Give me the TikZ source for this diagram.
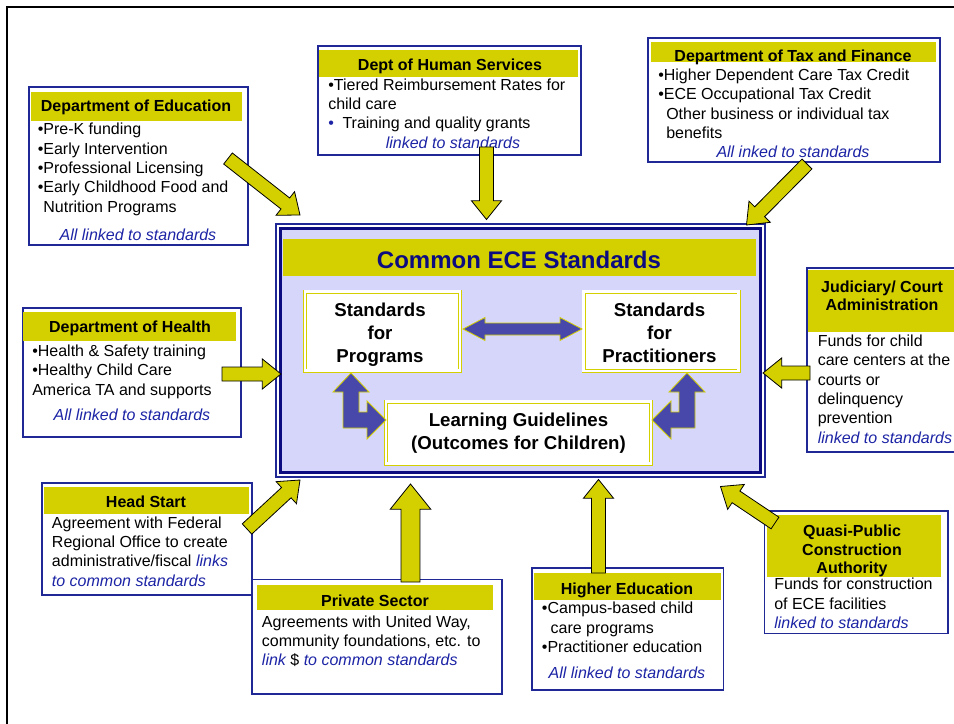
\documentclass[tikz,border=0pt]{standalone}
\usepackage{fontspec}
\setmainfont{Liberation Sans}
\usetikzlibrary{%
  calc,% for the block arrows
  fit,%
  positioning%
}

\definecolor{barcolor}{RGB}{212,208,0}
\definecolor{boxblue}{RGB}{32,40,150}
\definecolor{linkblue}{RGB}{28,36,165}
\definecolor{navy}{RGB}{12,12,128}
\definecolor{lavender}{RGB}{214,214,250}
\definecolor{arrowblue}{RGB}{72,72,170}

\tikzset{
  agency/.style={draw=boxblue, line width=1pt, fill=white, inner sep=0},
  headbar/.style={fill=barcolor, inner sep=0},
  headtext/.style={align=center, anchor=base, inner sep=0, font=\fontsize{12}{14}\selectfont\bfseries},
  bodytext/.style={align=left, anchor=base west, inner sep=0},
  linktext/.style={anchor=base, inner sep=0, text=linkblue, font=\fontsize{12}{14.5}\selectfont\itshape},
  stdbox/.style={draw=barcolor, double=white, double distance=1.6pt, line width=0.7pt, fill=white, inner sep=0},
  stdtext/.style={align=center, anchor=base, inner sep=0, font=\fontsize{14}{17.25}\selectfont\bfseries},
  feed/.style={fill=barcolor, draw=black, line width=0.6pt, line join=miter},
  crosslink/.style={fill=arrowblue, draw=barcolor, line width=0.6pt, line join=miter},
  bendlink/.pic={
    \path[crosslink] (351,373) -- (369,392) -- (359,392) -- (359,412) -- (367,412) -- (367,401)
      -- (386,420) -- (367,439) -- (367,428) -- (343,428) -- (343,392) -- (333,392) -- cycle;
  }
}

\newcommand{\lnk}[1]{{\color{linkblue}\itshape #1}}

% yellow block arrow from #2 (tail) to #3 (tip), #1 = size factor
\newcommand{\feedarrow}[3][1]{%
  \pgfmathsetmacro\sh{#1*5.25}%
  \pgfmathsetmacro\hh{#1*11.25}%
  \pgfmathsetmacro\hl{#1*14}%
  \coordinate (hb) at ($(#3)!\hl pt!(#2)$);
  \path[feed] ($(#2)!\sh pt!-90:(#3)$) -- ($(hb)!\sh pt!-90:(#3)$) -- ($(hb)!\hh pt!-90:(#3)$)
    -- (#3) -- ($(hb)!\hh pt!90:(#3)$) -- ($(hb)!\sh pt!90:(#3)$) -- ($(#2)!\sh pt!90:(#3)$) -- cycle;
}

% blue arrow with a head at both ends
\newcommand{\twowayarrow}[2]{%
  \coordinate (hb1) at ($(#1)!16.5pt!(#2)$);
  \coordinate (hb2) at ($(#2)!16.5pt!(#1)$);
  \path[crosslink] (#1) -- ($(hb1)!8.6pt!90:(#2)$) -- ($(hb1)!4.5pt!90:(#2)$) -- ($(hb2)!4.5pt!-90:(#1)$)
    -- ($(hb2)!8.6pt!-90:(#1)$) -- (#2) -- ($(hb2)!8.6pt!90:(#1)$) -- ($(hb2)!4.5pt!90:(#1)$)
    -- ($(hb1)!4.5pt!-90:(#2)$) -- ($(hb1)!8.6pt!-90:(#2)$) -- cycle;
}

\begin{document}
\begin{tikzpicture}[x=0.75pt, y=-0.75pt, font=\fontsize{12}{14.5}\selectfont]
  \useasboundingbox (0,0) rectangle (954,724);
  \path [draw, line width=1.1pt] (7,724) -- (7,7) -- (954,7);

  % common standards in the middle
  % (multi-line texts sit on the baseline of their last line)
  \node[fit={(276,224) (765,477)}, draw=boxblue, line width=0.8pt, inner sep=0] (ece) {};
  \node[fit={(280.5,228.5) (760.5,472.5)}, draw=navy, line width=2.6pt, fill=lavender, inner sep=0] (eceinner) {};
  \node[headbar, fit={(283,239) (756,276)}] (ecebar) {};
  \node[anchor=base, inner sep=0, text=navy, font=\fontsize{18}{21}\selectfont\bfseries] (ecetitle) at (519,268.5) {Common ECE Standards};

  \node[stdbox, fit={(305,291.5) (460,370.5)}] (prog) {};
  \node[stdtext] (progtext) at (380,362.5) {Standards\\for\\Programs};
  \node[stdbox, fit={(583.5,291.5) (738.5,371)}] (prac) {};
  \node[stdtext] (practext) at (659.5,362.5) {Standards\\for\\Practitioners};
  \node[stdbox, fit={(386,401.5) (651,463.5)}] (learn) {};
  \node[stdtext] (learntext) at (518.5,449.5) {Learning Guidelines\\(Outcomes for Children)};

  \coordinate (progtip) at (463,329);
  \coordinate (practip) at (582,329);
  \twowayarrow{progtip}{practip}
  \pic at (0,0) {bendlink};
  \pic[xscale=-1] at (1038,0) {bendlink};

  % Department of Education
  \node[agency, fit={(29,87) (248,245)}] (edu) {};
  \node[headbar, fit={(31,92) (242,121)}] (edubar) {};
  \node[headtext] (eduhead) at (136,111.5) {Department of Education};
  \node[bodytext] (edubody) at (37.5,212.3) {•Pre-K funding\\•Early Intervention\\•Professional Licensing\\•Early Childhood Food and\\\phantom{•}Nutrition Programs};
  \node[linktext] (edulink) at (138,240) {All linked to standards};

  % Dept of Human Services
  \node[agency, fit={(318,46) (581,155)}] (dhs) {};
  \node[headbar, fit={(319,50) (578,77)}] (dhsbar) {};
  \node[headtext] (dhshead) at (450,70.5) {Dept of Human Services};
  \node[bodytext] (dhsbody) at (328,128.7) {•Tiered Reimbursement Rates for\\child care\\{\color{linkblue}•}\hspace{6.5pt}Training and quality grants};
  \node[linktext] (dhslink) at (453,148) {linked to standards};

  % Department of Tax and Finance
  \node[agency, fit={(648,38) (940,162)}] (tax) {};
  \node[headbar, fit={(651,42) (936,62.5)}] (taxbar) {};
  \node[headtext] (taxhead) at (793,61.5) {Department of Tax and Finance};
  \node[bodytext] (taxbody) at (658,138.5) {•Higher Dependent Care Tax Credit\\•ECE Occupational Tax Credit\\\hspace{6pt}Other business or individual tax\\\hspace{6pt}benefits};
  \node[linktext] (taxlink) at (793,157) {All inked to standards};

  % Department of Health
  \node[agency, fit={(23,308) (241,437)}] (health) {};
  \node[headbar, fit={(23,312) (236,341)}] (healthbar) {};
  \node[headtext] (healthhead) at (130,332.5) {Department of Health};
  \node[bodytext] (healthbody) at (32,395.2) {•Health \& Safety training\\•Healthy Child Care\\America TA and supports};
  \node[linktext] (healthlink) at (132,420.5) {All linked to standards};

  % Judiciary
  \node[agency, fit={(807,268) (956,452)}] (court) {};
  \node[headbar, fit={(808,270) (956,331.5)}] (courtbar) {};
  \node[headtext] (courthead) at (882,310.9) {Judiciary/ Court\\Administration};
  \node[bodytext] (courtbody) at (817.5,443) {Funds for child\\care centers at the\\courts or\\delinquency\\prevention\\\lnk{linked to standards}};

  % Head Start
  \node[agency, fit={(42,483) (252,595)}] (hs) {};
  \node[headbar, fit={(43.5,487) (248.5,513.5)}] (hsbar) {};
  \node[headtext] (hshead) at (146,507) {Head Start};
  \node[bodytext] (hsbody) at (51.7,586) {Agreement with Federal\\Regional Office to create\\administrative/fiscal \lnk{links}\\\lnk{to common standards}};

  % Private Sector
  \node[agency, fit={(252,579.5) (502,694)}] (priv) {};
  \node[headbar, fit={(257,585) (493,609.5)}] (privbar) {};
  \node[headtext] (privhead) at (375,606) {Private Sector};
  \node[bodytext] (privbody) at (261.7,665.7) {Agreements with United Way,\\community foundations, etc. to\\\lnk{link} \$ \lnk{to common standards}};

  % Higher Education
  \node[agency, fit={(532,568) (723.5,690)}] (he) {};
  \node[headbar, fit={(534,573) (721,600)}] (hebar) {};
  \node[headtext] (hehead) at (627,594) {Higher Education};
  \node[bodytext] (hebody) at (541.7,652.5) {•Campus-based child\\\hspace{6.5pt}care programs\\•Practitioner education};
  \node[linktext] (helink) at (627,678) {All linked to standards};

  % Quasi-Public Construction Authority
  \node[agency, fit={(764.5,511) (948,633.5)}] (qpca) {};
  \node[headbar, fit={(766.5,515) (941,577)}] (qpcabar) {};
  \node[headtext] (qpcahead) at (852,573.8) {Quasi-Public\\Construction\\Authority};
  \node[bodytext] (qpcabody) at (774,628.5) {Funds for construction\\of ECE facilities\\\lnk{linked to standards}};

  % arrows into the common standards
  \coordinate (edutail) at (228,158.5);   \coordinate (edutip) at (300,215);
  \coordinate (dhstail) at (486.5,147);   \coordinate (dhstip) at (486.5,219.5);
  \coordinate (taxtail) at (807,164);     \coordinate (taxtip) at (746.5,225);
  \coordinate (healthtail) at (222,374);  \coordinate (healthtip) at (281,374);
  \coordinate (courttail) at (810,373);   \coordinate (courttip) at (763,373);
  \coordinate (hstail) at (247,529);      \coordinate (hstip) at (300,480);
  \coordinate (privtail) at (410.5,582);  \coordinate (privtip) at (410.5,484);
  \coordinate (hetail) at (598.5,573);    \coordinate (hetip) at (598.5,479.5);
  \coordinate (qpcatail) at (775,523);    \coordinate (qpcatip) at (720.5,486.5);
  \feedarrow{edutail}{edutip}
  \feedarrow{dhstail}{dhstip}
  \feedarrow{taxtail}{taxtip}
  \feedarrow{healthtail}{healthtip}
  \feedarrow{courttail}{courttip}
  \feedarrow{hstail}{hstip}
  \feedarrow[1.35]{privtail}{privtip}
  \feedarrow{hetail}{hetip}
  \feedarrow{qpcatail}{qpcatip}
\end{tikzpicture}
\end{document}
